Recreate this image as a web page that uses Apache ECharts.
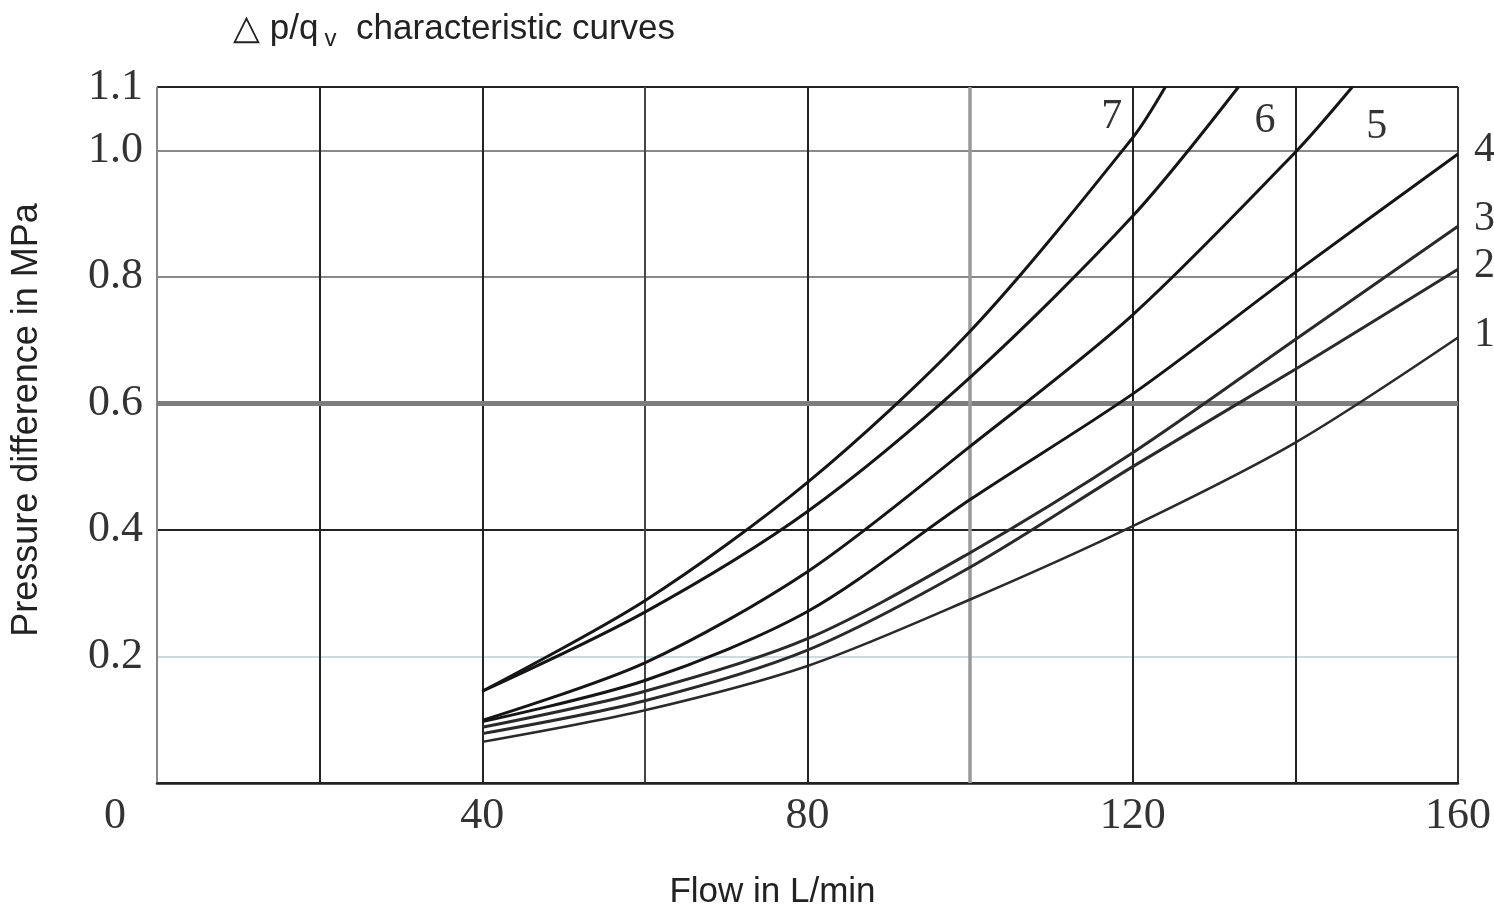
<!DOCTYPE html>
<html>
<head>
<meta charset="utf-8">
<script src="https://cdn.jsdelivr.net/npm/echarts@6/dist/echarts.min.js"></script>
<style>
html,body{margin:0;padding:0;background:#fff;}
#chart{width:1494px;height:917px;}
</style>
</head>
<body>
<div id="chart"></div>
<script>
// ---- data (flow L/min, pressure difference MPa) ----
const curveNames = ['1','2','3','4','5','6','7'];
const curve1 = [[40,0.065],[60,0.115],[80,0.185],[100,0.29],[120,0.406],[140,0.538],[160,0.704]];
const curve2 = [[40,0.078],[60,0.13],[80,0.21],[100,0.341],[120,0.5],[140,0.654],[160,0.812]];
const curve3 = [[40,0.088],[60,0.145],[80,0.228],[100,0.364],[120,0.522],[140,0.701],[160,0.88]];
const curve4 = [[40,0.097],[60,0.162],[80,0.271],[100,0.448],[120,0.615],[140,0.807],[160,0.994]];
const curve5 = [[40,0.099],[60,0.19],[80,0.334],[100,0.532],[120,0.74],[140,0.997],[147,1.1]];
const curve6 = [[40,0.145],[60,0.27],[80,0.429],[100,0.641],[120,0.896],[133,1.1]];
const curve7 = [[40,0.145],[60,0.288],[80,0.475],[100,0.714],[120,1.02],[124,1.1]];
const curves = [curve1, curve2, curve3, curve4, curve5, curve6, curve7];
const xTickLabels = [0, 40, 80, 120, 160];
const yTickLabels = [0.2, 0.4, 0.6, 0.8, 1.0, 1.1];

// ---- styles ----
const serif = "'Liberation Serif','DejaVu Serif',serif";
const sans = "'Liberation Sans',Arial,sans-serif";
const labelOffsets = {
  '1': [8, -3], '2': [8, -3], '3': [8, -7], '4': [8, -4],
  '5': [6, 40], '6': [8, 34], '7': [-72, 30]
};

const chart = echarts.init(document.getElementById('chart'), null, {renderer: 'canvas'});

const series = curves.map((c, i) => {
  const name = curveNames[i];
  return {
    name: name,
    type: 'line',
    data: c,
    smooth: 0.3,
    showSymbol: false,
    z: 5,
    lineStyle: {color: i < 3 ? '#2a2a2a' : '#151515', width: i === 0 ? 2.5 : 3},
    endLabel: {
      show: true,
      formatter: name,
      offset: labelOffsets[name],
      fontFamily: serif,
      fontSize: 42,
      color: '#333'
    },
    emphasis: {disabled: true}
  };
});

// special grid lines (thick gray)
series.push({
  type: 'line',
  data: [],
  z: 2,
  silent: true,
  markLine: {
    silent: true,
    symbol: 'none',
    label: {show: false},
    data: [
      {yAxis: 0.6, lineStyle: {color: '#7d7d7d', width: 5, type: 'solid'}},
      {xAxis: 100, lineStyle: {color: '#9a9a9a', width: 3.5, type: 'solid'}}
    ]
  }
});

chart.setOption({
  backgroundColor: '#ffffff',
  animation: false,
  title: {
    text: '△ p/q{sub|v} characteristic curves',
    left: 228,
    top: 2,
    textStyle: {
      fontFamily: sans,
      fontSize: 35,
      fontWeight: 'normal',
      color: '#222',
      rich: {
        sub: {fontFamily: sans, fontSize: 24, color: '#222', padding: [20, 10, 0, 6]}
      }
    }
  },
  grid: {left: 157, right: 36, top: 87, bottom: 134, containLabel: false},
  xAxis: {
    type: 'value',
    min: 0,
    max: 160,
    interval: 20,
    name: 'Flow in L/min',
    nameLocation: 'middle',
    nameGap: 92,
    nameTextStyle: {fontFamily: sans, fontSize: 35, color: '#222', padding: [0, 70, 0, 0]},
    axisLine: {show: true, lineStyle: {color: '#222', width: 2.5}},
    axisTick: {show: false},
    axisLabel: {
      margin: 11,
      fontFamily: serif,
      fontSize: 44,
      color: '#333',
      formatter: function (v) {
        if (xTickLabels.indexOf(v) < 0) return '';
        if (v === 0) return '{z|0}';
        return String(v);
      },
      rich: {z: {fontFamily: serif, fontSize: 44, color: '#333', padding: [0, 84, 0, 0]}}
    },
    splitLine: {
      show: true,
      lineStyle: {
        color: ['#888', '#222', '#222', '#444', '#222', '#999', '#222', '#222', '#333'],
        width: 2
      }
    }
  },
  yAxis: {
    type: 'value',
    min: 0,
    max: 1.1,
    interval: 0.2,
    name: 'Pressure difference in MPa',
    nameLocation: 'middle',
    nameGap: 112,
    nameTextStyle: {fontFamily: sans, fontSize: 36, color: '#222', padding: [0, 0, 0, 30]},
    axisLine: {show: true, lineStyle: {color: '#888', width: 1.5}},
    axisTick: {show: false},
    axisLabel: {
      margin: 14,
      fontFamily: serif,
      fontSize: 44,
      color: '#333',
      formatter: function (v) {
        const r = Math.round(v * 10) / 10;
        if (yTickLabels.indexOf(r) < 0) return '';
        return r.toFixed(1);
      }
    },
    splitLine: {
      show: true,
      lineStyle: {
        color: ['#222', '#cfdadd', '#222', '#7d7d7d', '#8a8a8a', '#8a8a8a', '#222'],
        width: 2
      }
    }
  },
  series: series
});
</script>
</body>
</html>
